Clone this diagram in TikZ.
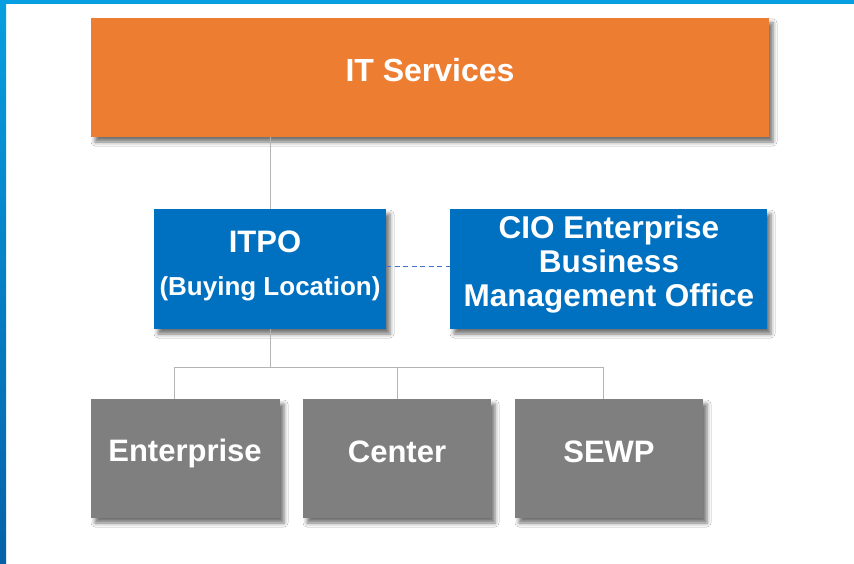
\documentclass[tikz,border=0pt]{standalone}
\usepackage{fontspec}
\setmainfont{Liberation Sans}
\usetikzlibrary{shadows.blur}
\definecolor{orangebox}{HTML}{ED7D31}
\definecolor{bluebox}{HTML}{0070C0}
\definecolor{graybox}{HTML}{7F7F7F}
\definecolor{linegray}{HTML}{B4B4B4}
\definecolor{dashblue}{HTML}{4472C4}
\definecolor{frametop}{HTML}{079FE1}
\definecolor{framebot}{HTML}{0661A9}
\begin{document}
\begin{tikzpicture}[x=1pt,y=-1pt,
  box/.style={draw=none,inner sep=0pt,rectangle,
    blur shadow={shadow xshift=4pt,shadow yshift=-5pt,shadow opacity=55,shadow blur radius=4pt}},
  txt/.style={text=white,font=\bfseries\fontsize{31}{34}\selectfont,inner sep=0pt,align=center},
  conn/.style={draw=linegray,line width=1pt},
  dashconn/.style={draw=dashblue,line width=0.8pt,dash pattern=on 5pt off 3.5pt}]
\useasboundingbox (0,0) rectangle (854,564);
\fill[white] (0,0) rectangle (854,564);
% frame
\fill[frametop] (0,0) rectangle (854,4);
\shade[top color=frametop,bottom color=framebot] (0,0) rectangle (6,564);
% boxes
\node[box,fill=orangebox,minimum width=678pt,minimum height=119pt] (it) at (430,77.5) {};
\node[box,fill=bluebox,minimum width=232pt,minimum height=120pt] (itpo) at (270,269) {};
\node[box,fill=bluebox,minimum width=317pt,minimum height=120pt] (cio) at (608.5,269) {};
\node[box,fill=graybox,minimum width=189pt,minimum height=119pt] (ent) at (185.5,458.5) {};
\node[box,fill=graybox,minimum width=188pt,minimum height=119pt] (cen) at (397,458.5) {};
\node[box,fill=graybox,minimum width=188pt,minimum height=119pt] (sewp) at (609,458.5) {};
% texts
\node[txt,font=\bfseries\fontsize{32}{34}\selectfont] (itT) at (430,70.5) {IT Services};
\node[txt] (itpoT) at (265,241.5) {ITPO};
\node[txt,font=\bfseries\fontsize{26}{30}\selectfont] (itpoB) at (270,289) {(Buying Location)};
\node[txt,font=\bfseries\fontsize{31.5}{34}\selectfont] (cioT) at (609,264) {CIO Enterprise\\Business\\Management Office};
\node[txt] (entT) at (185,453.5) {Enterprise};
\node[txt] (cenT) at (397,451.5) {Center};
\node[txt] (sewpT) at (609,451.5) {SEWP};
% connectors
\coordinate (bus) at (270,367);
\draw[conn] (it.south -| itpo.north) -- (itpo.north);
\draw[conn] (itpo.south) -- (bus);
\draw[conn] (ent.north -| 174,0) -- (174,367) -- (603,367) -- (sewp.north -| 603,0);
\draw[conn] (cen.north) -- (cen.north |- bus);
\draw[dashconn] (itpo.east |- 0,266) -- (cio.west |- 0,266);
\end{tikzpicture}
\end{document}
